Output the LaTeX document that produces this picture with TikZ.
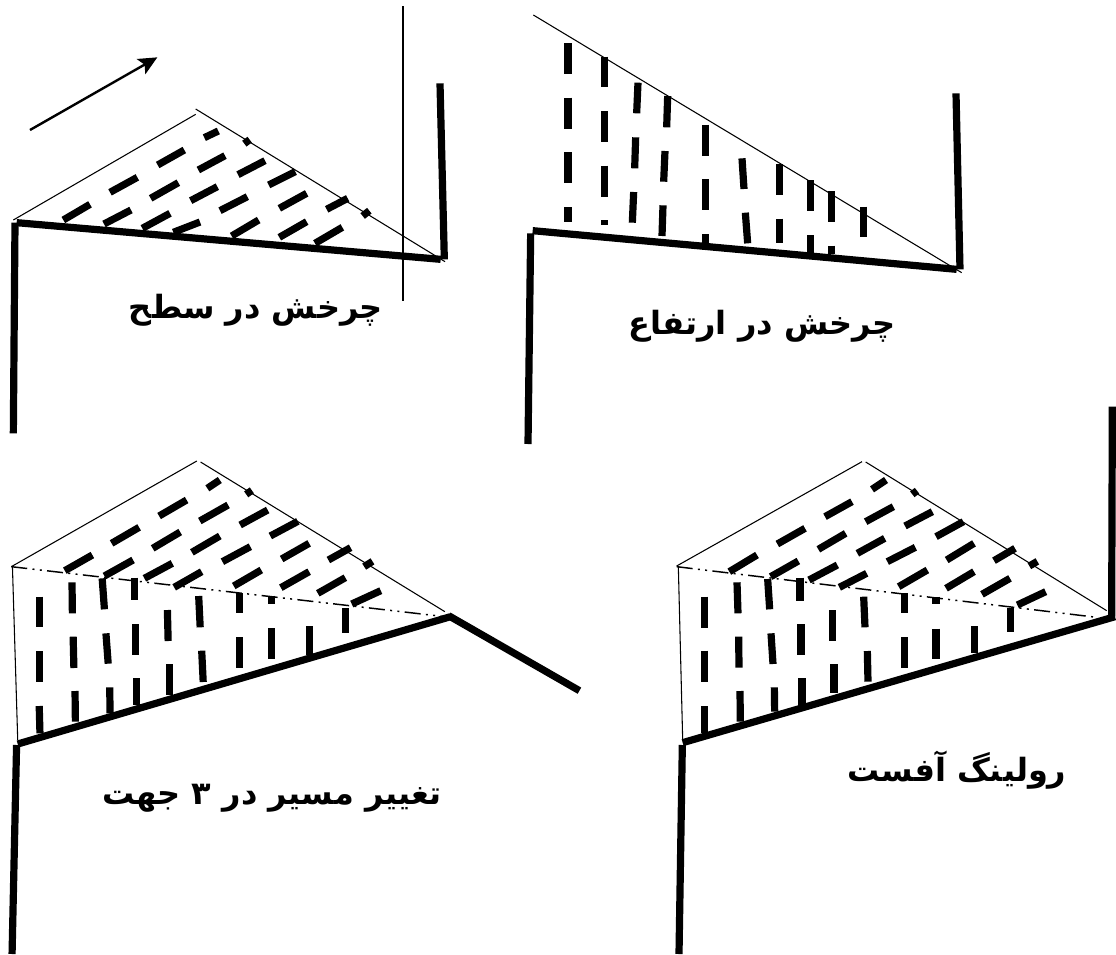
\documentclass[tikz,border=0pt]{standalone}
\usepackage{fontspec}
\usetikzlibrary{arrows.meta}
\TeXXeTstate=1
\newfontfamily\arabicfont[Script=Arabic]{DejaVu Sans}
\tikzset{
  wallline/.style = {line width=5.4pt},
  edgeline/.style = {line width=.8pt},
  dashbar/.style  = {line width=5.4pt},
  dotline/.style  = {line width=1.1pt, dash pattern=on 12pt off 4pt on 1.5pt off 4pt on 1.5pt off 4pt},
  caption/.style  = {font=\arabicfont\bfseries\fontsize{24}{28}\selectfont, inner sep=0}
}
\newcommand{\barlist}[1]{\foreach \xa/\ya/\xb/\yb in {#1} \draw[dashbar] (\xa,\ya)--(\xb,\yb);}

\begin{document}
\begin{tikzpicture}[x=.75pt,y=-.75pt]

  \useasboundingbox (0,0) rectangle (1116,954);

  % top left
  \begin{scope}[scale=1/3]
    \draw[wallline] (45,668)--(40,1300);
    \draw[wallline] (50,668)--(1322,778);
    \draw[wallline] (1320,250)--(1333,778);
    \draw[edgeline] (40,660)--(587,343);
    \draw[edgeline] (587,327)--(1335,785);
    \draw[edgeline] (1209,18)--(1209,902);
    \draw[line width=1.8pt,-{Stealth[length=14pt,width=13pt,inset=3pt]}] (90,390)--(472,172);
    \barlist{613/413/655/393, 733/431/749/419, 473/495/553/450, 595/510/675/467, 714/524/795/482,
      806/555/886/515, 330/577/412/532, 452/595/535/548, 572/602/652/560, 660/632/742/590,
      838/625/920/580, 980/628/1043/595, 1088/648/1108/632, 190/660/270/613, 312/672/393/630,
      427/685/510/640, 520/697/600/666, 695/708/776/660, 838/712/920/665, 945/730/1027/682}
  \end{scope}

  % top right
  \begin{scope}[shift={(510,0)},scale=1/3]
    \draw[wallline] (62,700)--(54,1332);
    \draw[wallline] (68,692)--(1340,808);
    \draw[wallline] (1338,280)--(1350,808);
    \draw[edgeline] (70,45)--(1355,818);
    \barlist{174/130/174/223, 174/293/174/386, 174/456/174/550, 174/622/174/667,
      283/170/283/262, 283/333/283/425, 283/497/283/590, 283/660/283/674,
      384/248/380/340, 377/412/374/505, 371/576/367/668,
      473/288/470/382, 465/453/461/545, 459/616/456/708,
      586/374/586/467, 586/538/586/631, 586/702/586/730,
      696/475/702/567, 706/638/713/730,
      808/493/808/585, 808/656/808/730,
      901/541/901/634, 901/706/901/762,
      964/574/964/667, 964/737/964/762,
      1060/620/1060/712}
  \end{scope}

  % bottom left
  \begin{scope}[shift={(0,450)},xscale=.377,yscale=1/3]
    \draw[wallline] (44,885)--(32,1512);
    \draw[wallline] (47,882)--(1195,500);
    \draw[wallline] (1190,497)--(1537,722);
    \draw[edgeline] (30,350)--(522,33);
    \draw[edgeline] (532,36)--(1180,485);
    \draw[edgeline] (33,350)--(47,870);
    \draw[dotline] (30,350)--(1180,500);
    \barlist{550/115/583/90, 653/133/668/121, 422/198/495/150, 530/213/605/165, 637/225/710/180,
      717/258/790/214, 296/280/369/232, 405/295/478/246, 509/307/583/258, 590/335/664/290,
      747/327/820/280, 871/330/930/293, 966/350/988/334, 172/362/245/315, 277/378/353/330,
      383/385/457/340, 462/412/535/365, 620/408/693/360, 745/413/820/365, 843/430/916/383,
      933/462/1010/422,
      104/440/104/532, 104/603/104/696, 104/768/106/850,
      191/397/192/490, 194/560/196/654, 199/723/200/815,
      271/385/277/478, 281/550/287/641, 291/712/292/790,
      357/383/357/450, 360/522/360/614, 362/685/362/765,
      444/480/446/573, 450/643/450/735,
      527/438/531/532, 535/602/539/696,
      635/430/635/490, 635/562/635/654,
      720/437/720/463, 720/535/720/627,
      822/528/822/615,
      917/475/917/548}
  \end{scope}

  % bottom right
  \begin{scope}[shift={(660,400)},scale=1/3]
    \draw[wallline] (67,1035)--(57,1662);
    \draw[wallline] (68,1028)--(1365,650);
    \draw[wallline] (1357,20)--(1355,650);
    \draw[edgeline] (50,498)--(606,185);
    \draw[edgeline] (617,186)--(1340,632);
    \draw[edgeline] (55,500)--(68,1018);
    \draw[dotline] (50,500)--(1310,652);
    \barlist{636/268/678/240, 757/283/771/272, 495/350/576/305, 617/365/700/320, 735/378/817/335,
      828/410/910/365, 352/432/435/385, 475/448/557/400, 592/460/674/415, 682/485/766/442,
      860/480/942/430, 1002/482/1065/445, 1108/498/1132/484, 208/515/291/465, 332/530/415/483,
      447/540/532/495, 538/562/620/520, 716/560/802/510, 858/565/942/515, 966/583/1050/535,
      1072/615/1157/575,
      134/590/134/683, 134/752/134/846, 134/918/134/1000,
      231/547/234/640, 236/710/237/803, 240/873/241/965,
      323/537/329/628, 333/700/339/792, 343/862/344/935,
      420/533/420/602, 423/672/423/765, 426/835/426/915,
      518/630/518/723, 522/793/522/880,
      611/590/615/682, 622/753/624/845,
      733/580/733/640, 733/712/733/805,
      828/590/828/612, 828/686/828/778,
      943/678/943/760,
      1052/625/1052/697}
  \end{scope}

  \node[caption] (capa) at (256,310) {\beginR چرخش در سطح\endR};
  \node[caption] (capb) at (762,326) {\beginR چرخش در ارتفاع\endR};
  \node[caption] (capc) at (272,798) {\beginR تغییر مسیر در ۳ جهت\endR};
  \node[caption] (capd) at (957,770) {\beginR رولینگ آفست\endR};

\end{tikzpicture}
\end{document}
